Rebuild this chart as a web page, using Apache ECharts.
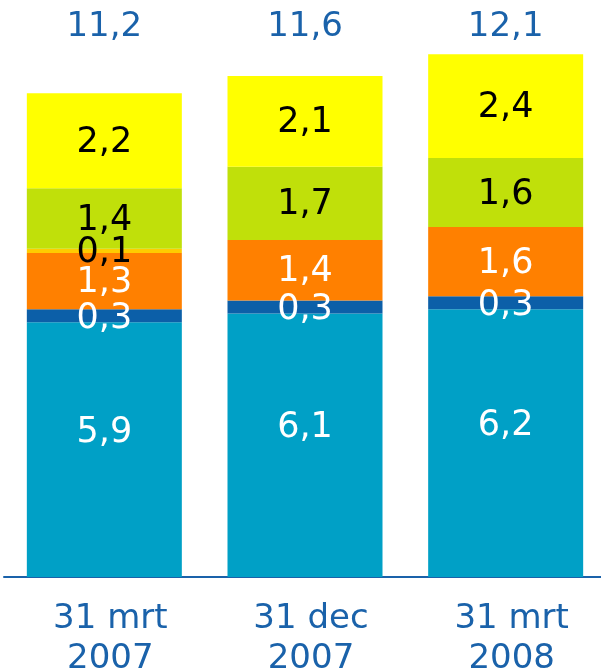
<!DOCTYPE html>
<html>
<head>
<meta charset="utf-8">
<script src="https://cdn.jsdelivr.net/npm/echarts@6/dist/echarts.min.js"></script>
<style>
  html, body { margin: 0; padding: 0; background: #fff; }
  #chart { width: 601px; height: 671px; }
</style>
</head>
<body>
<div id="chart"></div>
<script>
  // categories and totals
  var categories = ['31 mrt\n2007', '31 dec\n2007', '31 mrt\n2008'];
  var totals = ['11,2', '11,6', '12,1'];
  // stacked segments, bottom to top
  var teal = [5.9, 6.1, 6.2];
  var darkBlue = [0.3, 0.3, 0.3];
  var orange = [1.3, 1.4, 1.6];
  var amber = [0.1, 0, 0];
  var lime = [1.4, 1.7, 1.6];
  var yellow = [2.2, 2.1, 2.4];

  var chart = echarts.init(document.getElementById('chart'));
  var font = 'DejaVu Sans, Verdana, sans-serif';

  function seg(name, data, color, textColor, dy) {
    return {
      name: name,
      type: 'bar',
      stack: 'total',
      barWidth: 155,
      data: data,
      itemStyle: { color: color },
      label: {
        show: true,
        position: 'inside',
        offset: [0, dy || 0],
        color: textColor,
        fontFamily: font,
        fontSize: 35,
        formatter: function (p) {
          return p.value ? p.value.toFixed(1).replace('.', ',') : '';
        }
      }
    };
  }

  chart.setOption({
    animation: false,
    grid: { left: 4, width: 602, top: 50, bottom: 94, outerBoundsMode: 'none', containLabel: false },
    xAxis: [{
      type: 'category',
      data: categories,
      axisLine: { lineStyle: { color: '#1a62aa', width: 2 } },
      axisTick: { show: false },
      axisLabel: {
        color: '#1a62aa',
        fontFamily: font,
        fontSize: 34,
        lineHeight: 40,
        margin: 22,
        padding: [0, 0, 0, 12]
      }
    }, {
      type: 'category',
      position: 'top',
      data: totals,
      axisLine: { show: false },
      axisTick: { show: false },
      axisLabel: {
        color: '#1a62aa',
        fontFamily: font,
        fontSize: 34,
        margin: 6
      }
    }],
    yAxis: {
      type: 'value',
      min: 0,
      max: 12.2,
      show: false
    },
    series: [
      seg('a', teal, '#00a0c6', '#ffffff', -17),
      seg('b', darkBlue, '#0c5fa8', '#ffffff', 3),
      seg('c', orange, '#ff8000', '#ffffff', 2),
      seg('d', amber, '#ffcc00', '#000000', 2),
      seg('e', lime, '#c0e00a', '#000000', 2),
      seg('f', yellow, '#ffff00', '#000000', 2)
    ]
  });
</script>
</body>
</html>
